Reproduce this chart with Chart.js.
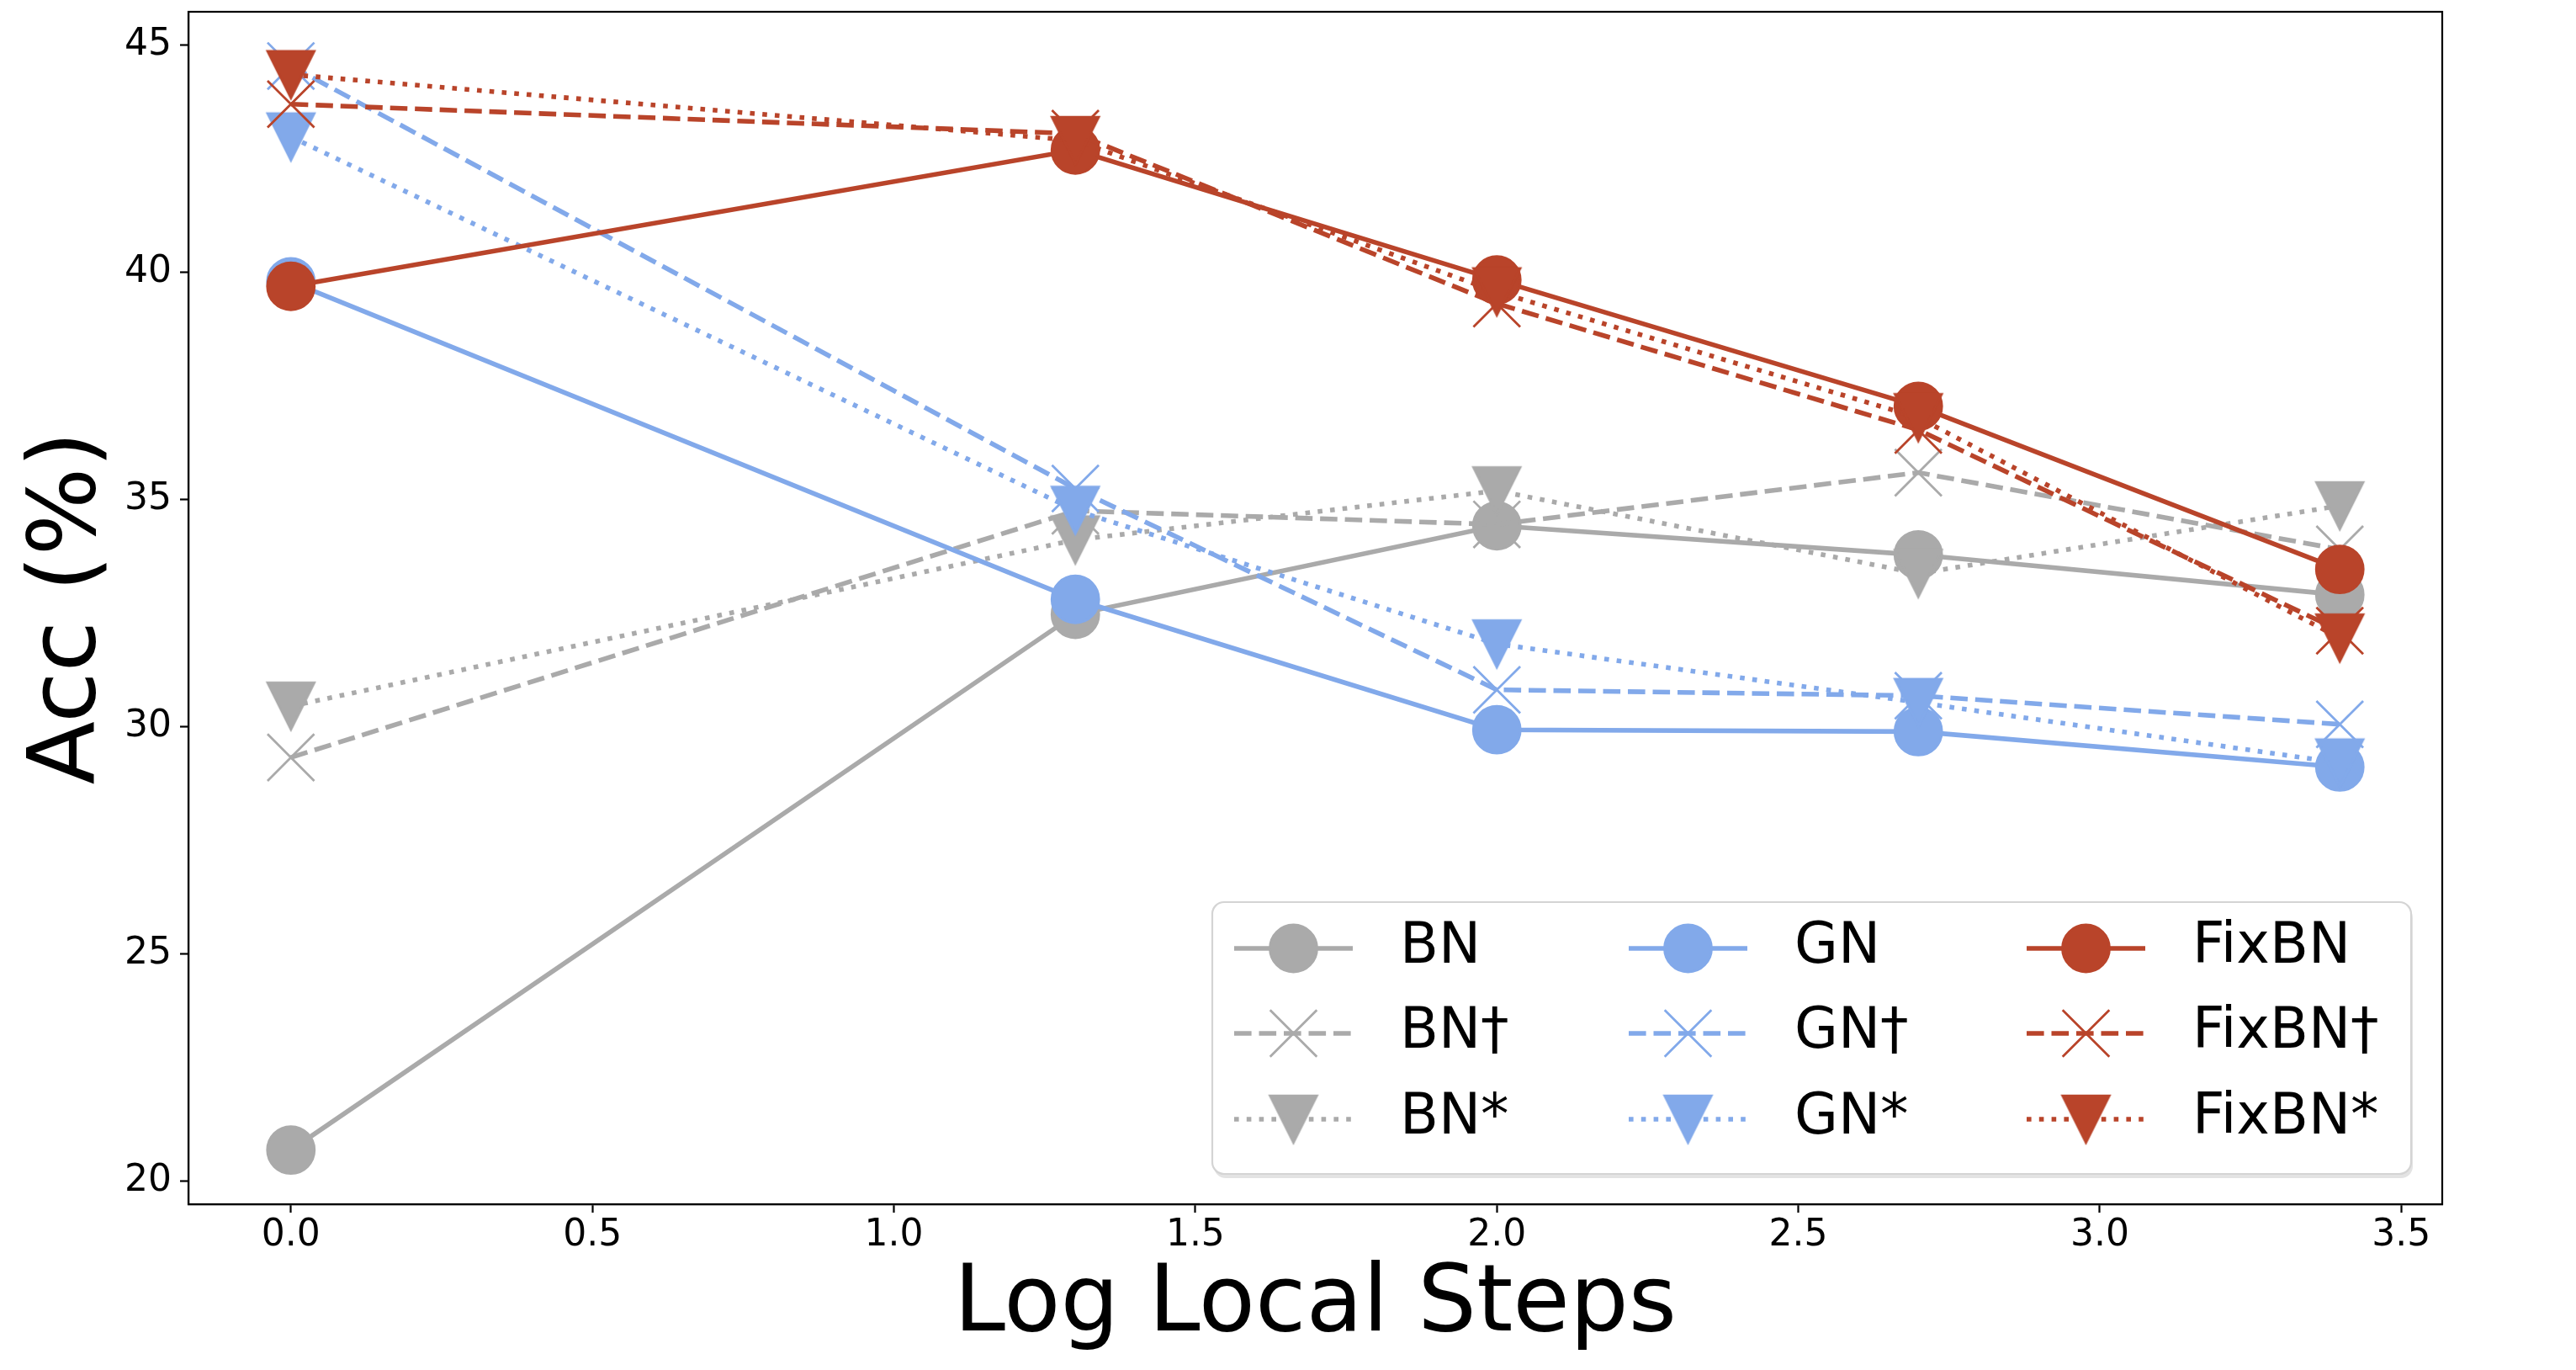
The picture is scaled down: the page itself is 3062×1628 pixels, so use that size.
<!DOCTYPE html>
<html>
<head>
<meta charset="utf-8">
<script src="https://cdn.jsdelivr.net/npm/chart.js"></script>
<style>
  html, body { margin: 0; padding: 0; background: #fff; }
  canvas { display: block; }
</style>
</head>
<body>
<canvas id="accChart" width="3062" height="1628"></canvas>
<script>
// log10 of local steps: 1, 20, 100, 500, 2500
const steps = [0, 1.301, 2.0, 2.699, 3.398];
const xTicks = [0, 0.5, 1.0, 1.5, 2.0, 2.5, 3.0, 3.5];
const yTicks = [20, 25, 30, 35, 40, 45];
const names = ['BN', 'BN\u2020', 'BN*', 'GN', 'GN\u2020', 'GN*', 'FixBN', 'FixBN\u2020', 'FixBN*'];

const bn = [20.68, 32.47, 34.42, 33.78, 32.90];
const bnDag = [29.32, 34.75, 34.45, 35.59, 33.90];
const bnStar = [30.45, 34.11, 35.19, 33.37, 34.86];
const gn = [39.79, 32.80, 29.93, 29.89, 29.11];
const gnDag = [44.54, 35.24, 30.81, 30.68, 30.05];
const gnStar = [42.98, 34.76, 31.82, 30.53, 29.20];
const fixbn = [39.69, 42.69, 39.83, 37.05, 33.46];
const fixbnDag = [43.70, 43.05, 39.31, 36.53, 32.11];
const fixbnStar = [44.35, 42.90, 39.57, 36.80, 31.95];

const series = [bn, bnDag, bnStar, gn, gnDag, gnStar, fixbn, fixbnDag, fixbnStar];
const colors = ['#aaaaaa', '#82a9ea', '#b9442a'];
const dashes = [[], [20.6, 8.9], [5.6, 9.2]];
const FONT = '"DejaVu Sans", sans-serif';

// matplotlib 'v' marker as a small canvas, centred on the point
function triangle(color) {
    const c = document.createElement('canvas');
    c.width = 64;
    c.height = 64;
    const g = c.getContext('2d');
    g.fillStyle = color;
    g.strokeStyle = color;
    g.lineWidth = 2.8;
    g.lineJoin = 'miter';
    g.beginPath();
    g.moveTo(4.2, 4.2);
    g.lineTo(59.8, 4.2);
    g.lineTo(32, 59.8);
    g.closePath();
    g.fill();
    g.stroke();
    return c;
}

const datasets = names.map((name, i) => {
    const color = colors[Math.floor(i / 3)];
    const kind = i % 3;
    return {
        label: name,
        data: series[i].map((v, j) => ({ x: steps[j], y: v })),
        borderColor: color,
        backgroundColor: color,
        borderWidth: 5.6,
        borderDash: dashes[kind],
        pointStyle: kind === 0 ? 'circle' : kind === 1 ? 'crossRot' : triangle(color),
        pointRadius: kind === 0 ? 28 : kind === 1 ? 39.3 : 30,
        pointBorderWidth: 2.8,
        pointBackgroundColor: color,
        pointBorderColor: color,
        tension: 0,
        order: names.length - i,
    };
});

const allVals = series.flat();
const yLo = Math.min(...allVals), yHi = Math.max(...allVals);
const yPad = (yHi - yLo) * 0.05;
const xPad = (steps[steps.length - 1] - steps[0]) * 0.05;

function drawMarker(ctx, ds, x, y) {
    ctx.fillStyle = ds.pointBackgroundColor;
    ctx.strokeStyle = ds.pointBorderColor;
    ctx.lineWidth = ds.pointBorderWidth;
    ctx.setLineDash([]);
    if (ds.pointStyle === 'circle') {
        ctx.beginPath();
        ctx.arc(x, y, ds.pointRadius, 0, Math.PI * 2);
        ctx.fill();
        ctx.stroke();
    } else if (ds.pointStyle === 'crossRot') {
        const d = ds.pointRadius * Math.SQRT1_2;
        ctx.beginPath();
        ctx.moveTo(x - d, y - d); ctx.lineTo(x + d, y + d);
        ctx.moveTo(x - d, y + d); ctx.lineTo(x + d, y - d);
        ctx.stroke();
    } else {
        const img = ds.pointStyle;
        ctx.drawImage(img, x - img.width / 2, y - img.height / 2);
    }
}

const framePlugin = {
    id: 'frameAndLegend',
    afterDraw: (chart) => {
        const { ctx, chartArea: a } = chart;
        ctx.save();
        // spines
        ctx.strokeStyle = '#000';
        ctx.lineWidth = 2.2;
        ctx.setLineDash([]);
        ctx.strokeRect(a.left, a.top, a.right - a.left, a.bottom - a.top);

        // legend box
        const bx = 1441, by = 1072, bw = 2866 - 1441, bh = 1395 - 1072;
        ctx.fillStyle = '#e3e3e3';
        ctx.beginPath();
        ctx.roundRect(bx + 2, by + 5, bw, bh, 14);
        ctx.fill();
        ctx.fillStyle = '#ffffff';
        ctx.strokeStyle = '#d4d4d4';
        ctx.lineWidth = 2.2;
        ctx.beginPath();
        ctx.roundRect(bx, by, bw, bh, 14);
        ctx.fill();
        ctx.stroke();

        const colX = [1467, 1936, 2409];
        const rowY = [1127, 1228, 1330];
        chart.data.datasets.forEach((ds, i) => {
            const x0 = colX[Math.floor(i / 3)];
            const y = rowY[i % 3];
            ctx.strokeStyle = ds.borderColor;
            ctx.lineWidth = ds.borderWidth;
            ctx.lineCap = 'butt';
            ctx.setLineDash(ds.borderDash);
            ctx.beginPath();
            ctx.moveTo(x0, y);
            ctx.lineTo(x0 + 141, y);
            ctx.stroke();
            drawMarker(ctx, ds, x0 + 70.5, y);
            ctx.fillStyle = '#000';
            ctx.font = '67px ' + FONT;
            ctx.textAlign = 'left';
            ctx.textBaseline = 'middle';
            ctx.fillText(ds.label, x0 + 197, y);
        });
        ctx.restore();
    }
};

const chart = new Chart(document.getElementById('accChart'), {
    type: 'line',
    data: { datasets: datasets },
    options: {
        responsive: false,
        animation: false,
        devicePixelRatio: 1,
        layout: { autoPadding: false, padding: { top: 14, right: 159, left: 0, bottom: 0 } },
        plugins: { legend: { display: false }, tooltip: { enabled: false } },
        scales: {
            x: {
                type: 'linear',
                min: steps[0] - xPad,
                max: steps[steps.length - 1] + xPad,
                afterBuildTicks: (s) => { s.ticks = xTicks.map(v => ({ value: v })); },
                afterFit: (s) => { s.height = 197; s.paddingLeft = 0; s.paddingRight = 0; },
                grid: { drawOnChartArea: false, drawTicks: true, tickLength: 10, tickWidth: 2.2, tickColor: '#000' },
                border: { display: true, color: '#000', width: 2.2 },
                ticks: {
                    padding: 1,
                    color: '#000',
                    font: { family: FONT, size: 44 },
                    maxRotation: 0,
                    callback: (v) => Number(v).toFixed(1),
                },
                title: {
                    display: true,
                    text: 'Log Local Steps',
                    color: '#000',
                    font: { family: FONT, size: 110, lineHeight: 1.2 },
                    padding: { top: 0, bottom: 10 },
                },
            },
            y: {
                type: 'linear',
                min: yLo - yPad,
                max: yHi + yPad,
                afterBuildTicks: (s) => { s.ticks = yTicks.map(v => ({ value: v })); },
                afterFit: (s) => { s.width = 224; s.paddingTop = 0; s.paddingBottom = 0; },
                grid: { drawOnChartArea: false, drawTicks: true, tickLength: 10, tickWidth: 2.2, tickColor: '#000' },
                border: { display: true, color: '#000', width: 2.2 },
                ticks: {
                    padding: 10,
                    color: '#000',
                    font: { family: FONT, size: 44 },
                    callback: (v) => String(v),
                },
                title: {
                    display: true,
                    text: 'Acc (%)',
                    color: '#000',
                    font: { family: FONT, size: 110, lineHeight: 1.2 },
                    padding: { top: 17, bottom: 0 },
                },
            },
        },
    },
    plugins: [framePlugin],
});
</script>
</body>
</html>
